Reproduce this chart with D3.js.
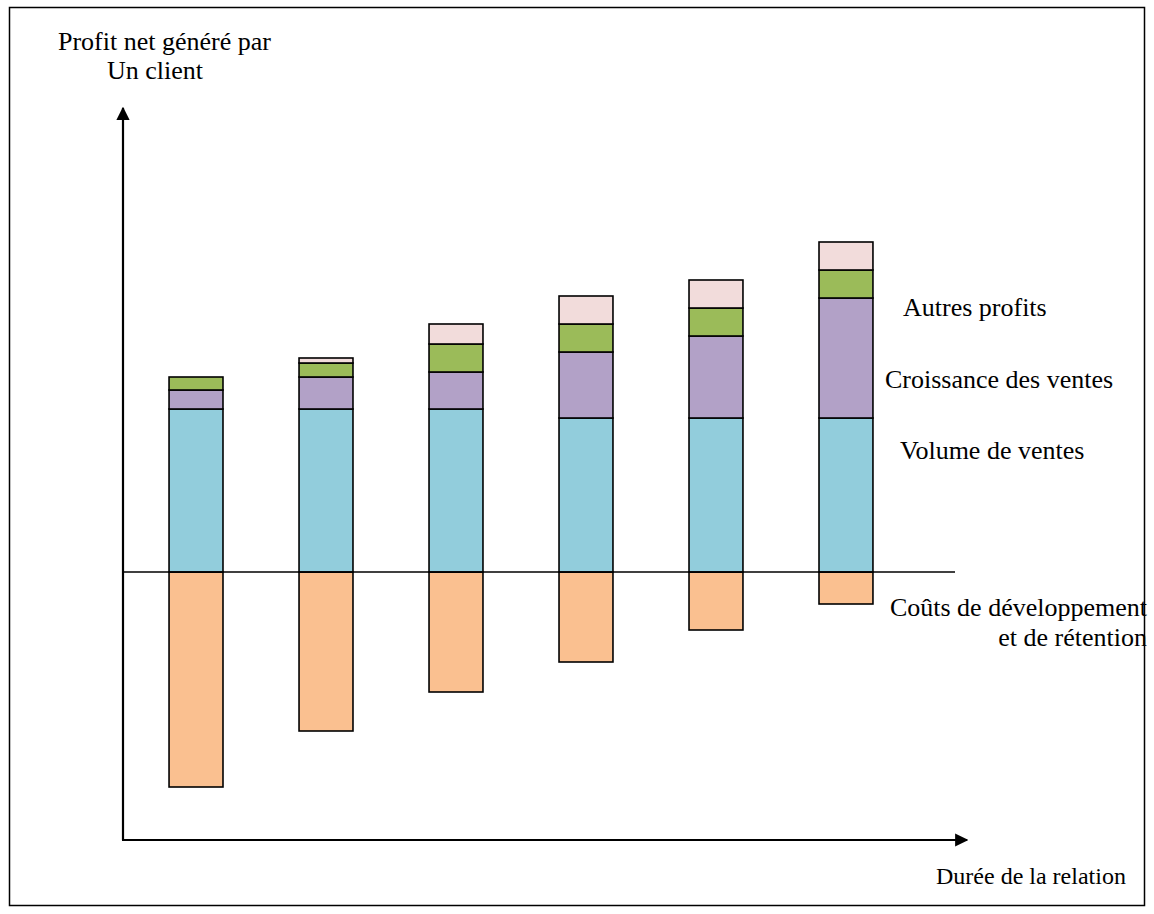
<!DOCTYPE html>
<html>
<head>
<meta charset="utf-8">
<script src="https://cdn.jsdelivr.net/npm/d3@7"></script>
<style>
  html, body { margin: 0; padding: 0; background: #fff; }
  svg { display: block; }
  text { font-family: "Liberation Serif", "Times New Roman", serif; fill: #000; }
</style>
</head>
<body>
<svg id="chart" width="1154" height="914"></svg>
<script>
// ---- data ----
const periods = ["1", "2", "3", "4", "5", "6"];
const volumeVentes      = [81.5, 81.5, 81.5, 77, 77, 77];
const croissanceVentes  = [9.5, 16, 18.5, 33, 41, 60];
const autresProfitsVert = [6.5, 7, 14, 14, 14, 14];
const autresProfitsRose = [0, 2.5, 10, 14, 14, 14];
const coutsDeveloppement = [-107.5, -79.5, -60, -45, -29, -16];

const seriesNames = ["Volume de ventes", "Croissance des ventes", "Autres profits (a)", "Autres profits (b)"];
const seriesColors = ["#92CDDC", "#B2A1C7", "#9BBB59", "#F2DCDB"];
const costColor = "#FAC090";

const yTitle = ["Profit net généré par", "Un client"];
const xTitle = "Durée de la relation";
const sideLabels = ["Autres profits", "Croissance des ventes", "Volume de ventes"];
const costLabel = ["Coûts de développement", "et de rétention"];

// ---- layout ----
const svg = d3.select("#chart");
svg.append("rect").attr("x", 9.5).attr("y", 7.5).attr("width", 1135).attr("height", 898)
  .attr("fill", "none").attr("stroke", "#000").attr("stroke-width", 1.5);

const x = d3.scaleBand().domain(periods).range([93, 949]).padding(0.585);
const y = d3.scaleLinear().domain([-110, 170]).range([792, 232]);

const table = periods.map((p, i) => ({
  period: p,
  s0: volumeVentes[i], s1: croissanceVentes[i], s2: autresProfitsVert[i], s3: autresProfitsRose[i],
  cost: coutsDeveloppement[i]
}));
const stack = d3.stack().keys(["s0", "s1", "s2", "s3"])(table);

// cost bars (negative)
svg.append("g").selectAll("rect").data(table).join("rect")
  .attr("x", d => x(d.period))
  .attr("width", x.bandwidth())
  .attr("y", y(0))
  .attr("height", d => y(d.cost) - y(0))
  .attr("fill", costColor).attr("stroke", "#000").attr("stroke-width", 1.6);

// stacked positive bars
stack.forEach((layer, li) => {
  svg.append("g").selectAll("rect").data(layer.filter(d => d[1] - d[0] > 0)).join("rect")
    .attr("x", d => x(d.data.period))
    .attr("width", x.bandwidth())
    .attr("y", d => y(d[1]))
    .attr("height", d => y(d[0]) - y(d[1]))
    .attr("fill", seriesColors[li]).attr("stroke", "#000").attr("stroke-width", 1.6);
});

// zero line
svg.append("line").attr("x1", 123).attr("x2", 955).attr("y1", y(0)).attr("y2", y(0))
  .attr("stroke", "#000").attr("stroke-width", 1.3);

// axes with arrows
const defs = svg.append("defs");
defs.append("marker").attr("id", "arrow").attr("viewBox", "0 0 10 10")
  .attr("refX", 9).attr("refY", 5).attr("markerWidth", 6).attr("markerHeight", 6)
  .attr("markerUnits", "strokeWidth").attr("orient", "auto")
  .append("path").attr("d", "M0,0 L10,5 L0,10 Z").attr("fill", "#000");

const axisY = 840, axisX = 123;
svg.append("line").attr("x1", axisX).attr("y1", axisY).attr("x2", axisX).attr("y2", 108)
  .attr("stroke", "#000").attr("stroke-width", 2.2).attr("marker-end", "url(#arrow)");
svg.append("line").attr("x1", axisX - 1).attr("y1", axisY).attr("x2", 967).attr("y2", axisY)
  .attr("stroke", "#000").attr("stroke-width", 2.2).attr("marker-end", "url(#arrow)");

// texts
const fs = 26;
svg.append("text").attr("x", 58).attr("y", 50).attr("font-size", fs).text(yTitle[0]);
svg.append("text").attr("x", 107).attr("y", 79).attr("font-size", fs).text(yTitle[1]);

svg.append("text").attr("x", 903).attr("y", 316).attr("font-size", fs).text(sideLabels[0]);
svg.append("text").attr("x", 885).attr("y", 388).attr("font-size", fs).text(sideLabels[1]);
svg.append("text").attr("x", 900).attr("y", 459).attr("font-size", fs).text(sideLabels[2]);

svg.append("text").attr("x", 1147).attr("y", 616).attr("text-anchor", "end").attr("font-size", fs).text(costLabel[0]);
svg.append("text").attr("x", 1147).attr("y", 646).attr("text-anchor", "end").attr("font-size", fs).text(costLabel[1]);

svg.append("text").attr("x", 936).attr("y", 884).attr("font-size", 24).text(xTitle);
</script>
</body>
</html>
